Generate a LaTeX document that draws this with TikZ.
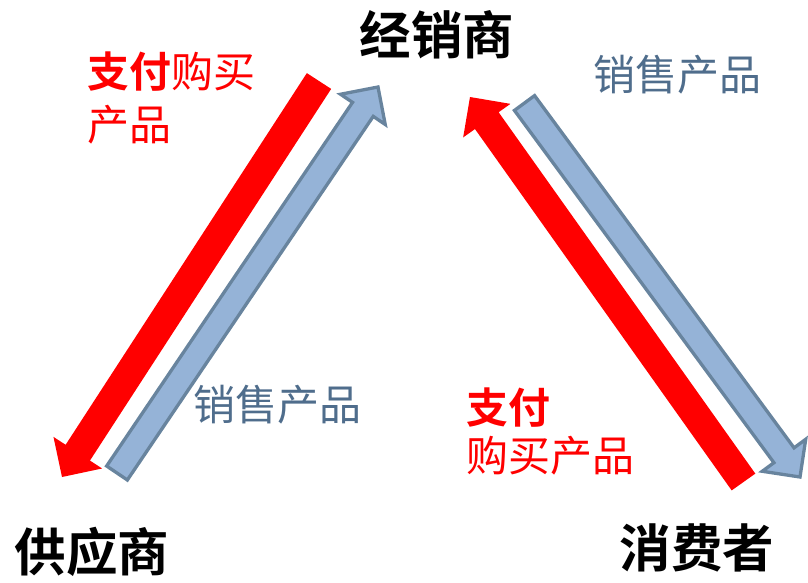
\documentclass[tikz,border=0pt]{standalone}
\usepackage{fontspec}
\newfontfamily\cjk{Noto Sans CJK SC}
\newfontfamily\cjkb{Noto Sans CJK SC Bold}
\usetikzlibrary{calc}
\definecolor{arrred}{HTML}{FF0000}
\definecolor{arrblue}{HTML}{95B3D7}
\definecolor{arredge}{HTML}{68849E}
\definecolor{lblblue}{HTML}{4F6D8C}
\tikzset{
  redarrow/.style={fill=arrred,draw=none},
  bluearrow/.style={fill=arrblue,draw=arredge,line width=3.3pt,line join=miter},
  title/.style={font=\cjkb\fontsize{51.5}{56}\selectfont,text=black,inner sep=0pt},
  bluelbl/.style={font=\cjk\fontsize{42}{46}\selectfont,text=lblblue,inner sep=0pt},
  redlbl/.style={font=\cjk\fontsize{42}{46}\selectfont,text=arrred,inner sep=0pt,anchor=west},
}
% #1 style, #2 tail, #3 tip, #4 half shaft, #5 half head, #6 head length
\newcommand{\blockarrow}[6]{%
  \path[#1]
    ($(#2)!#4!90:(#3)$) --
    ($($(#3)!#6!(#2)$)!#4!-90:(#2)$) --
    ($($(#3)!#6!(#2)$)!#5!-90:(#2)$) --
    (#3) --
    ($($(#3)!#6!(#2)$)!#5!90:(#2)$) --
    ($($(#3)!#6!(#2)$)!#4!90:(#2)$) --
    ($(#2)!#4!-90:(#3)$) -- cycle;}
\begin{document}
\begin{tikzpicture}[x=1pt,y=-1pt]
\useasboundingbox (0,0) rectangle (808,582);
% arrow ends
\coordinate (r1tail) at (319,81);
\coordinate (r1tip) at (62,477);
\coordinate (b1tail) at (117,473);
\coordinate (b1tip) at (378,87);
\coordinate (r2tail) at (743.5,482);
\coordinate (r2tip) at (470,97);
\coordinate (b2tail) at (524.5,103);
\coordinate (b2tip) at (800,477);
\blockarrow{redarrow}{r1tail}{r1tip}{14.5pt}{29pt}{29pt}
\blockarrow{bluearrow}{b1tail}{b1tip}{12.5pt}{27pt}{27pt}
\blockarrow{redarrow}{r2tail}{r2tip}{14.5pt}{29pt}{29pt}
\blockarrow{bluearrow}{b2tail}{b2tip}{12.5pt}{27pt}{27pt}
% titles
\node[title] (dealer) at (437,35) {经销商};
\node[title] (supplier) at (92,552) {供应商};
\node[title] (consumer) at (697,548) {消费者};
% labels
\node[bluelbl] (sell1) at (677,75) {销售产品};
\node[bluelbl] (sell2) at (277,405) {销售产品};
\node[redlbl] (pay1) at (87,72) {{\cjkb 支付}购买};
\node[redlbl] (pay1b) at (87,125) {产品};
\node[redlbl] (pay2) at (466,408) {{\cjkb 支付}};
\node[redlbl] (pay2b) at (466,456) {购买产品};
\end{tikzpicture}
\end{document}
